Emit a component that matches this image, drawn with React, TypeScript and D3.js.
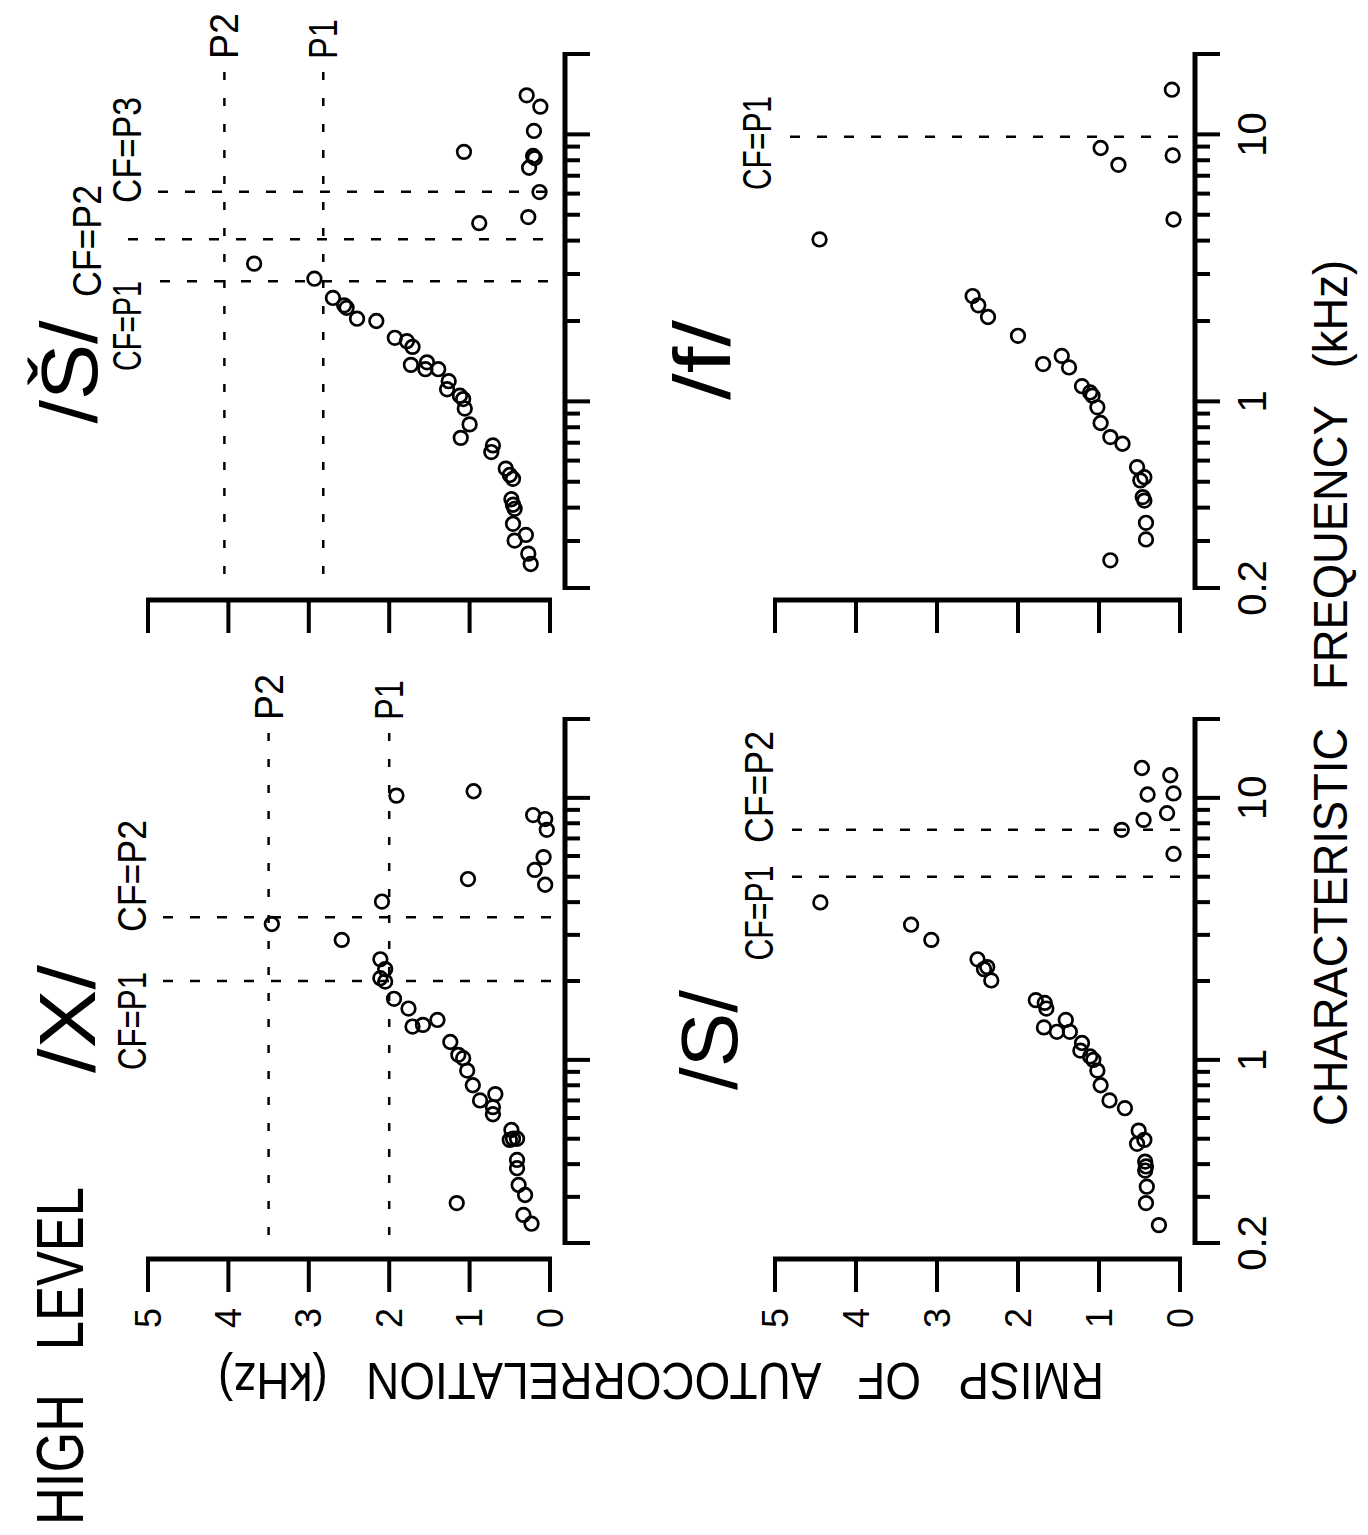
import React from "react";
import * as d3 from "d3";

// ---------- DATA (characteristic frequency kHz, RMISP kHz) ----------
const xSoundPoints: [number, number][] = [
  [10.6, 0.95], [10.2, 1.91], [8.6, 0.21], [8.3, 0.06], [7.55, 0.04], [5.94, 0.08], [5.31, 0.19],
  [4.66, 0.06], [4.9, 1.02], [4.02, 2.09], [3.3, 3.46], [2.87, 2.59], [2.42, 2.11], [2.22, 2.05],
  [2.05, 2.11], [1.99, 2.05], [1.71, 1.94], [1.57, 1.76], [1.34, 1.71], [1.36, 1.58], [1.42, 1.4],
  [1.17, 1.24], [1.045, 1.14], [1.015, 1.08], [0.91, 1.03], [0.8, 0.96], [0.7, 0.87], [0.74, 0.68],
  [0.66, 0.71], [0.62, 0.71], [0.54, 0.48], [0.5, 0.46], [0.5, 0.41], [0.495, 0.5], [0.415, 0.41],
  [0.386, 0.41], [0.333, 0.39], [0.305, 0.31], [0.284, 1.16], [0.256, 0.33], [0.237, 0.23],
];
const shSoundPoints: [number, number][] = [
  [14.0, 0.29], [12.7, 0.12], [10.3, 0.2], [8.6, 1.07], [8.3, 0.21], [8.15, 0.19], [7.5, 0.26],
  [6.08, 0.13], [4.9, 0.27], [4.65, 0.88], [3.28, 3.68], [2.88, 2.93], [2.44, 2.7], [2.29, 2.56],
  [2.24, 2.53], [2.04, 2.4], [2.0, 2.16], [1.73, 1.93], [1.68, 1.78], [1.6, 1.71], [1.37, 1.73],
  [1.4, 1.53], [1.32, 1.55], [1.32, 1.39], [1.19, 1.26], [1.11, 1.28], [1.05, 1.12], [1.02, 1.08],
  [0.94, 1.06], [0.82, 1.0], [0.73, 1.11], [0.684, 0.71], [0.646, 0.73], [0.56, 0.55], [0.53, 0.5],
  [0.513, 0.46], [0.43, 0.48], [0.41, 0.46], [0.396, 0.44], [0.348, 0.46], [0.316, 0.3], [0.301, 0.44],
  [0.269, 0.27], [0.246, 0.24],
];
const sSoundPoints: [number, number][] = [
  [13.0, 0.47], [12.2, 0.12], [10.3, 0.4], [10.4, 0.08], [8.74, 0.16], [8.24, 0.45], [7.55, 0.72],
  [6.11, 0.08], [3.99, 4.44], [3.28, 3.32], [2.87, 3.07], [2.42, 2.5], [2.22, 2.42], [2.26, 2.38],
  [2.01, 2.33], [1.69, 1.78], [1.65, 1.67], [1.57, 1.65], [1.33, 1.68], [1.28, 1.52], [1.42, 1.41],
  [1.28, 1.36], [1.16, 1.21], [1.085, 1.23], [1.03, 1.11], [1.0, 1.07], [0.91, 1.02], [0.8, 0.98],
  [0.7, 0.87], [0.654, 0.68], [0.537, 0.51], [0.495, 0.44], [0.478, 0.53], [0.409, 0.43],
  [0.392, 0.42], [0.378, 0.43], [0.328, 0.41], [0.284, 0.42], [0.234, 0.26],
];
const fSoundPoints: [number, number][] = [
  [14.7, 0.1], [8.89, 0.98], [7.69, 0.76], [8.34, 0.09], [4.8, 0.08], [4.04, 4.45], [2.48, 2.56],
  [2.29, 2.49], [2.07, 2.37], [1.76, 2.0], [1.38, 1.69], [1.48, 1.46], [1.34, 1.37], [1.14, 1.21],
  [1.08, 1.11], [1.05, 1.08], [0.95, 1.02], [0.83, 0.98], [0.735, 0.86], [0.694, 0.71], [0.567, 0.53],
  [0.52, 0.44], [0.506, 0.49], [0.438, 0.46], [0.425, 0.44], [0.351, 0.42], [0.304, 0.42], [0.254, 0.86],
];

// pitch values (kHz)
const xPitches = [2.0, 3.5];
const shPitches = [2.82, 4.05];
const shCFs = [2.82, 4.05, 6.1];
const sCFs = [5.0, 7.55];
const fCFs = [9.8];
const pLabels = ["P1", "P2", "P3"];
const cfLabels = ["CF=P1", "CF=P2", "CF=P3"];

const rmispTicks = [0, 1, 2, 3, 4, 5];
const freqLabelTicks = [0.2, 1, 10];
const freqDomain: [number, number] = [0.2, 20];

// ---------- LAYOUT ----------
const FONT = '"Liberation Sans Narrow", "Liberation Sans", Arial, sans-serif';
const cols = {
  left: { x0: 550, x5: 148, axisX: 565 },
  right: { x0: 1180, x5: 775, axisX: 1195 },
};
const rows = {
  top: { yLo: 588, yHi: 54, rmY: 600, pTop: 72 },
  bottom: { yLo: 1243, yHi: 719, rmY: 1259, pTop: 733 },
};

type Lbl = { cx: number; cy: number; len: number };

function RText(props: {
  x: number; y: number; angle?: number; size: number; len?: number; anchor?: string; children: any;
}) {
  const { x, y, angle = -90, size, len, anchor = "middle", children } = props;
  return (
    <text
      transform={`translate(${x},${y}) rotate(${angle})`}
      fontSize={size}
      fontFamily={FONT}
      textAnchor={anchor as any}
      dominantBaseline="central"
      textLength={len}
      lengthAdjust={len ? "spacingAndGlyphs" : undefined}
      style={{ whiteSpace: "pre" }}
      fill="#000"
    >
      {children}
    </text>
  );
}

function Panel(props: {
  col: { x0: number; x5: number; axisX: number };
  row: { yLo: number; yHi: number; rmY: number; pTop: number };
  data: [number, number][];
  pitches: number[];
  pLabelPos: { bottom: number; len: number }[];
  cfs: number[];
  cfStart: number[];
  cfLabelPos: Lbl[];
  showRmLabels: boolean;
  showFreqLabels: boolean;
}) {
  const { col, row, data, pitches, pLabelPos, cfs, cfStart, cfLabelPos, showRmLabels, showFreqLabels } = props;
  const x = d3.scaleLinear().domain([0, 5]).range([col.x0, col.x5]);
  const y = d3.scaleLog().domain(freqDomain).range([row.yLo, row.yHi]);
  const ticks = y.ticks();
  const isMajor = (v: number) => {
    const l = Math.log10(v);
    return Math.abs(l - Math.round(l)) < 1e-6 || Math.abs(v - 0.2) < 1e-6 || Math.abs(v - 20) < 1e-6;
  };
  const fmt = (v: number) => (v < 1 ? String(v) : d3.format("d")(v));
  return (
    <g>
      {/* frequency axis */}
      <line x1={col.axisX} x2={col.axisX} y1={y(0.2) + 2} y2={y(20) - 2} stroke="#000" strokeWidth={5} />
      {ticks.map((v, i) => (
        <line key={i} x1={col.axisX} x2={col.axisX + (isMajor(v) ? 25 : 15)} y1={y(v)} y2={y(v)} stroke="#000" strokeWidth={4} />
      ))}
      {showFreqLabels &&
        freqLabelTicks.map((v, i) => (
          <RText key={i} x={col.axisX + 57} y={y(v)} size={40}>
            {fmt(v)}
          </RText>
        ))}
      {/* RMISP axis */}
      <line x1={x(5) - 2} x2={x(0) + 2} y1={row.rmY} y2={row.rmY} stroke="#000" strokeWidth={5} />
      {rmispTicks.map((v, i) => (
        <line key={i} x1={x(v)} x2={x(v)} y1={row.rmY} y2={row.rmY + 33} stroke="#000" strokeWidth={4} />
      ))}
      {showRmLabels &&
        rmispTicks.map((v, i) => (
          <RText key={i} x={x(v)} y={row.rmY + 59} size={36}>
            {String(v)}
          </RText>
        ))}
      {/* pitch lines (constant RMISP) */}
      {pitches.map((p, i) => (
        <g key={i}>
          <line x1={x(p)} x2={x(p)} y1={row.pTop} y2={y(0.2)} stroke="#000" strokeWidth={2.5} strokeDasharray="8 18" />
          <RText x={x(p)} y={pLabelPos[i].bottom - pLabelPos[i].len / 2} size={40} len={pLabelPos[i].len}>
            {pLabels[i]}
          </RText>
        </g>
      ))}
      {/* CF lines (constant CF) */}
      {cfs.map((c, i) => (
        <g key={i}>
          <line x1={cfStart[i]} x2={col.axisX - 10} y1={y(c)} y2={y(c)} stroke="#000" strokeWidth={2.5} strokeDasharray="10 17" />
          <RText x={cfLabelPos[i].cx} y={cfLabelPos[i].cy} size={40} len={cfLabelPos[i].len}>
            {cfLabels[i]}
          </RText>
        </g>
      ))}
      {/* points */}
      {data.map((d, i) => (
        <circle key={i} cx={x(d[1])} cy={y(d[0])} r={6.8} fill="none" stroke="#000" strokeWidth={2.7} />
      ))}
    </g>
  );
}

export default function App() {
  return (
    <svg
      width={1368}
      height={1535}
      viewBox="0 0 1368 1535"
      style={{ position: "absolute", left: 0, top: 0, background: "#fff" }}
    >
      <rect x={0} y={0} width={1368} height={1535} fill="#fff" />
      {/* /X/ */}
      <Panel
        col={cols.left}
        row={rows.bottom}
        data={xSoundPoints}
        pitches={xPitches}
        pLabelPos={[{ bottom: 720, len: 40 }, { bottom: 720, len: 46 }]}
        cfs={xPitches}
        cfStart={[163, 163]}
        cfLabelPos={[{ cx: 132, cy: 1021, len: 98 }, { cx: 132, cy: 876, len: 112 }]}
        showRmLabels={true}
        showFreqLabels={false}
      />
      {/* /Š/ */}
      <Panel
        col={cols.left}
        row={rows.top}
        data={shSoundPoints}
        pitches={shPitches}
        pLabelPos={[{ bottom: 59, len: 40 }, { bottom: 59, len: 46 }]}
        cfs={shCFs}
        cfStart={[160, 128, 158]}
        cfLabelPos={[
          { cx: 127, cy: 326, len: 90 },
          { cx: 87, cy: 241, len: 112 },
          { cx: 127, cy: 150, len: 106 },
        ]}
        showRmLabels={false}
        showFreqLabels={false}
      />
      {/* /S/ */}
      <Panel
        col={cols.right}
        row={rows.bottom}
        data={sSoundPoints}
        pitches={[]}
        pLabelPos={[]}
        cfs={sCFs}
        cfStart={[792, 792]}
        cfLabelPos={[{ cx: 759, cy: 913, len: 95 }, { cx: 759, cy: 787, len: 112 }]}
        showRmLabels={true}
        showFreqLabels={true}
      />
      {/* /f/ */}
      <Panel
        col={cols.right}
        row={rows.top}
        data={fSoundPoints}
        pitches={[]}
        pLabelPos={[]}
        cfs={fCFs}
        cfStart={[790]}
        cfLabelPos={[{ cx: 757, cy: 143, len: 94 }]}
        showRmLabels={false}
        showFreqLabels={true}
      />
      {/* titles */}
      <RText x={67} y={1019} size={80} len={108}>/X/</RText>
      <RText x={69} y={372} size={80} len={103}>/Š/</RText>
      <RText x={709} y={1040} size={80} len={100}>/S/</RText>
      <RText x={702} y={360} size={80} len={80}>/f/</RText>
      <RText x={60} y={1356} size={66} len={338}>HIGH   LEVEL</RText>
      <RText x={661} y={1381} angle={180} size={52} len={886}>RMISP   OF   AUTOCORRELATION   (kHz)</RText>
      <RText x={1330} y={693} size={48} len={866}>CHARACTERISTIC   FREQUENCY   (kHz)</RText>
    </svg>
  );
}
